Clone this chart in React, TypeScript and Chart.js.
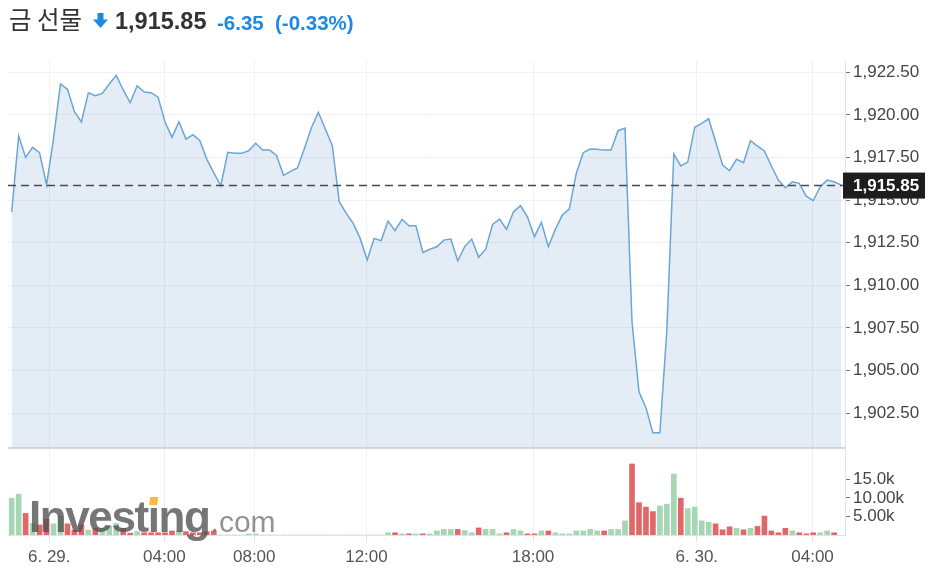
import React, { useEffect, useRef } from 'react';
import { Chart, registerables } from 'chart.js';

Chart.register(...registerables);

const TITLE = '금 선물';
const LAST_PRICE = 1915.85;
const LAST_PRICE_LABEL = '1,915.85';
const CHANGE_LABEL = '-6.35';
const CHANGE_PCT_LABEL = '(-0.33%)';

// 15-minute closes
const prices = [
  1914.31, 1918.76, 1917.5, 1918.09, 1917.78, 1915.88, 1918.6, 1921.81, 1921.5, 1920.18,
  1919.58, 1921.3, 1921.12, 1921.26, 1921.81, 1922.32, 1921.46, 1920.71, 1921.71, 1921.34,
  1921.3, 1921.04, 1919.58, 1918.68,
  1919.6, 1918.58, 1918.83, 1918.48, 1917.39, 1916.6, 1915.84, 1917.8, 1917.74, 1917.74,
  1917.89, 1918.33, 1917.93, 1917.93, 1917.62, 1916.45, 1916.68, 1916.88, 1918.03, 1919.24,
  1920.15, 1919.17, 1918.19, 1914.9,
  1914.22, 1913.63, 1912.75, 1911.48, 1912.75, 1912.61, 1913.77, 1913.2, 1913.87, 1913.49,
  1913.49, 1911.93, 1912.11, 1912.26, 1912.65, 1912.71, 1911.44, 1912.26, 1912.71, 1911.64,
  1912.12, 1913.57, 1913.88, 1913.28, 1914.31,
  1914.67, 1914.02, 1912.85, 1913.69, 1912.26, 1913.28, 1914.12, 1914.47, 1916.56, 1917.78,
  1917.99, 1917.98, 1917.93, 1917.93, 1919.07, 1919.23, 1907.86, 1903.75, 1902.81, 1901.34,
  1901.34, 1907.37, 1917.7, 1917.0,
  1917.23, 1919.27, 1919.5, 1919.77, 1918.42, 1917.05, 1916.72, 1917.39, 1917.19, 1918.48,
  1918.17, 1917.88, 1917.0, 1916.17, 1915.72, 1916.07, 1915.98, 1915.23, 1914.96, 1915.78,
  1916.17, 1916.07, 1915.88,
];

// volume in thousands
const volumes = [
  9.9, 11.0, 5.8, 3.1, 2.7, 4.2, 3.0, 5.1, 3.0, 1.3,
  2.7, 1.3, 1.8, 1.8, 2.4, 3.1, 1.8, 0.5, 0.9, 0.6,
  0.6, 0.6, 0.6, 1.1, 1.1, 0.9, 0.6, 0.6, 0.9, 1.1,
  0, 0, 0, 0, 0.3, 0.3, 0, 0, 0, 0,
  0, 0, 0, 0, 0, 0, 0, 0, 0, 0,
  0, 0, 0, 0, 0.6, 0.6, 0.3, 0.3, 0.3, 0.3,
  0.3, 1.1, 1.5, 1.5, 1.5, 1.2, 0.6, 1.9, 1.5, 1.5,
  0.3, 0.6, 1.5, 1.1, 0.3, 0.3, 1.1, 1.1, 0.6, 0.3,
  0.3, 1.1, 1.1, 1.5, 1.1, 1.1, 1.5, 1.5, 3.8, 19.1,
  8.7, 7.5, 6.3, 7.8, 8.3, 16.4, 9.9, 7.1, 7.5, 3.8,
  3.4, 3.0, 1.4, 2.2, 1.8, 1.4, 1.8, 2.3, 5.1, 1.1,
  0.6, 1.8, 1.1, 0.6, 0.3, 0.6, 0.6, 1.1, 0.6,
];

const volumeDirections = (
  'UUDUDDUUDD' + 'DUDUUUDDUD' + 'DDDDUDDDDD' + 'UUUUUUUUUU' + 'UUUUUUUUUU' +
  'UUUUUDUDUD' + 'UUUUDUUDUU' + 'UDUUDDUDUU' + 'UUUUUDUUUD' + 'DDDUUUDUUU' +
  'UDDDUDUDDD' + 'DDUDDDUUD'
).split('');

const xTickPositions = [5.39, 21.9, 34.8, 50.9, 74.8, 98.3, 114.9];
const xTickLabels = ['6. 29.', '04:00', '08:00', '12:00', '18:00', '6. 30.', '04:00'];

const priceTicks = [1902.5, 1905, 1907.5, 1910, 1912.5, 1915, 1917.5, 1920, 1922.5];
const volumeTicks = [5, 10, 15];
const volumeTickLabels = ['5.00k', '10.00k', '15.0k'];

const PRICE_MIN = 1900.45;
const PRICE_MAX = 1923.16;
const VOLUME_MAX = 23.4;
const X_MIN = -0.53;
const X_MAX = 119.56;

const FONT = "'Liberation Sans', Arial, Helvetica, sans-serif";
const BLUE = '#1e88e5';

const overlayPlugin = {
  id: 'overlay',
  afterDatasetsDraw(chart: any) {
    const { ctx, chartArea, scales } = chart;
    const y = scales.y;
    ctx.save();
    // separator between price and volume panes
    ctx.strokeStyle = '#c8ccd1';
    ctx.lineWidth = 1.5;
    ctx.beginPath();
    ctx.moveTo(chartArea.left, y.bottom);
    ctx.lineTo(chartArea.right, y.bottom);
    ctx.stroke();

    // watermark
    const wx = chartArea.left + 21;
    const wy = chartArea.bottom - 3;
    ctx.font = `bold 44px ${FONT}`;
    (ctx as any).letterSpacing = '-1.4px';
    ctx.textBaseline = 'alphabetic';
    ctx.textAlign = 'left';
    ctx.fillStyle = 'rgba(80,80,80,0.78)';
    ctx.fillText('Investing', wx, wy);
    const wInv = ctx.measureText('Investing').width;
    const wInvest = ctx.measureText('Invest').width;
    const wI = ctx.measureText('i').width;
    // orange dot on the i
    const dx = wx + wInvest + wI / 2 - 1;
    ctx.fillStyle = '#f7b941';
    ctx.beginPath();
    ctx.moveTo(dx - 3, wy - 27);
    ctx.lineTo(dx + 5, wy - 27);
    ctx.lineTo(dx + 6, wy - 35);
    ctx.lineTo(dx - 2, wy - 35);
    ctx.closePath();
    ctx.fill();
    (ctx as any).letterSpacing = '0px';
    ctx.font = `30px ${FONT}`;
    ctx.fillStyle = 'rgba(120,120,120,0.8)';
    ctx.fillText('.com', wx + wInv + 1, wy);

    // last price dashed line
    const py = y.getPixelForValue(LAST_PRICE);
    ctx.setLineDash([8, 5]);
    ctx.strokeStyle = '#4a4a4a';
    ctx.lineWidth = 1.5;
    ctx.beginPath();
    ctx.moveTo(chartArea.left, py);
    ctx.lineTo(chartArea.right, py);
    ctx.stroke();
    ctx.setLineDash([]);

    // last price label box
    ctx.fillStyle = '#1d1d1d';
    ctx.fillRect(chartArea.right - 2, py - 13, 82, 26);
    ctx.fillStyle = '#ffffff';
    ctx.font = `bold 17px ${FONT}`;
    ctx.textBaseline = 'middle';
    ctx.fillText(LAST_PRICE_LABEL, chartArea.right + 8, py + 1);
    ctx.restore();
  },
};

function PriceChart() {
  const ref = useRef<HTMLCanvasElement | null>(null);
  useEffect(() => {
    if (!ref.current) return;
    const chart = new Chart(ref.current, {
      type: 'line',
      data: {
        datasets: [
          {
            type: 'line',
            data: prices.map((p, i) => ({ x: i, y: p })),
            xAxisID: 'x',
            yAxisID: 'y',
            borderColor: '#6aa6d6',
            borderWidth: 1.5,
            backgroundColor: 'rgba(90,145,200,0.16)',
            fill: 'start',
            pointRadius: 0,
            tension: 0,
          },
          {
            type: 'bar',
            data: volumes.map((v, i) => ({ x: i, y: v })),
            xAxisID: 'x',
            yAxisID: 'yv',
            backgroundColor: volumeDirections.map((d) => (d === 'U' ? '#a6d6b3' : '#e06868')),
            barThickness: 5,
            borderWidth: 0,
          },
        ] as any,
      },
      options: {
        animation: false,
        responsive: false,
        layout: { padding: { top: 61, left: 8, right: 0, bottom: 0 } },
        plugins: { legend: { display: false }, tooltip: { enabled: false } },
        scales: {
          x: {
            type: 'linear',
            min: X_MIN,
            max: X_MAX,
            offset: false,
            afterBuildTicks: (scale: any) => {
              scale.ticks = xTickPositions.map((v) => ({ value: v }));
            },
            afterFit: (scale: any) => {
              scale.height = 37;
            },
            ticks: {
              autoSkip: false,
              maxRotation: 0,
              color: '#555555',
              font: { family: FONT, size: 17 },
              padding: 5,
              callback: (_v: any, i: number) => xTickLabels[i],
            },
            grid: { color: '#eff1f4', tickLength: 7, tickColor: '#dfe3e8', offset: false },
            border: { color: '#dfe3e8' },
          },
          y: {
            type: 'linear',
            position: 'right',
            stack: 'panes',
            stackWeight: 387,
            min: PRICE_MIN,
            max: PRICE_MAX,
            afterBuildTicks: (scale: any) => {
              scale.ticks = priceTicks.map((v) => ({ value: v }));
            },
            afterFit: (scale: any) => {
              scale.width = 89;
            },
            ticks: {
              color: '#454545',
              font: { family: FONT, size: 17 },
              padding: 3,
              callback: (v: any) =>
                Number(v).toLocaleString('en-US', { minimumFractionDigits: 2, maximumFractionDigits: 2 }),
            },
            grid: { color: '#eff1f4', tickLength: 5, tickColor: '#777777' },
            border: { color: '#dfe3e8' },
          },
          yv: {
            type: 'linear',
            position: 'right',
            stack: 'panes',
            stackWeight: 87,
            min: 0,
            max: VOLUME_MAX,
            afterBuildTicks: (scale: any) => {
              scale.ticks = volumeTicks.map((v) => ({ value: v }));
            },
            afterFit: (scale: any) => {
              scale.width = 89;
            },
            ticks: {
              color: '#454545',
              font: { family: FONT, size: 17 },
              padding: 3,
              callback: (_v: any, i: number) => volumeTickLabels[i],
            },
            grid: { drawOnChartArea: false, tickLength: 5, tickColor: '#777777' },
            border: { color: '#dfe3e8' },
          },
        } as any,
      },
      plugins: [overlayPlugin],
    });
    return () => chart.destroy();
  }, []);
  return <canvas ref={ref} width={934} height={572} style={{ position: 'absolute', left: 0, top: 0, width: 934, height: 572 }} />;
}

export default function App() {
  const abs = (left: number, top: number): React.CSSProperties => ({
    position: 'absolute',
    left,
    top,
    whiteSpace: 'nowrap',
  });
  return (
    <div style={{ position: 'absolute', left: 0, top: 0, width: 934, height: 572, background: '#ffffff', overflow: 'hidden' }}>
      <PriceChart />
      <span style={{ ...abs(9, 7), fontFamily: "'Noto Sans CJK KR', sans-serif", fontSize: 24.5, lineHeight: '24.5px', color: '#333333' }}>
        {TITLE}
      </span>
      <svg style={abs(93, 13)} width={15} height={16} viewBox="0 0 15 16">
        <rect x={4.5} y={0} width={6} height={7.5} fill={BLUE} />
        <polygon points="0,6.5 15,6.5 7.5,15" fill={BLUE} />
      </svg>
      <span style={{ ...abs(115, 10), fontFamily: FONT, fontWeight: 'bold', fontSize: 23.5, lineHeight: '23.5px', color: '#333333' }}>
        {LAST_PRICE_LABEL}
      </span>
      <span style={{ ...abs(217, 12.5), fontFamily: FONT, fontWeight: 'bold', fontSize: 20.5, lineHeight: '20.5px', color: BLUE }}>
        {CHANGE_LABEL}
      </span>
      <span style={{ ...abs(275, 12.5), fontFamily: FONT, fontWeight: 'bold', fontSize: 20.5, lineHeight: '20.5px', color: BLUE }}>
        {CHANGE_PCT_LABEL}
      </span>
    </div>
  );
}
